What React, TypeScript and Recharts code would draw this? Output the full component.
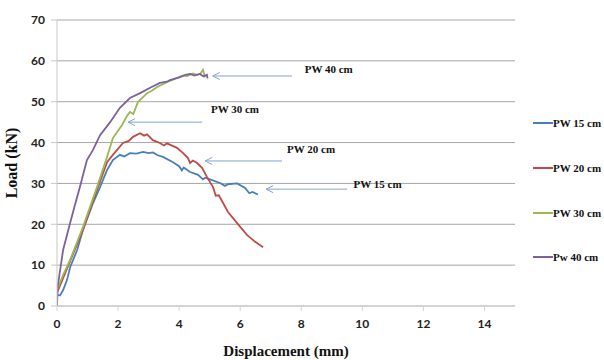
import React from 'react';
import {
	LineChart,
	Line,
	XAxis,
	YAxis,
	CartesianGrid,
	ReferenceLine,
	ReferenceDot,
} from 'recharts';

// displacement (mm), load (kN)
const pw15: [number, number][] = [
	[0, 2.7], [0.1, 2.6], [0.2, 3.9], [0.33, 6.4], [0.43, 9.5], [0.66, 13.7],
	[0.85, 18.6], [1.18, 25.2], [1.41, 29.1], [1.64, 33.3], [1.83, 35.7],
	[2.06, 37.0], [2.2, 36.6], [2.39, 37.4], [2.6, 37.3], [2.82, 37.7],
	[3.0, 37.4], [3.14, 37.6], [3.3, 36.9], [3.47, 36.5], [3.8, 35.2],
	[4.0, 34.2], [4.09, 33.2], [4.15, 33.9], [4.36, 32.8], [4.62, 32.1],
	[4.78, 31.0], [4.85, 31.4], [5.08, 30.8], [5.34, 30.1], [5.5, 29.4],
	[5.6, 29.8], [5.9, 30.0], [6.16, 28.9], [6.3, 27.6], [6.4, 27.9],
	[6.58, 27.3],
];

const pw20: [number, number][] = [
	[0, 3.2], [0.2, 6.8], [0.43, 11.0], [0.85, 18.6], [1.31, 28.4],
	[1.64, 35.2], [1.83, 37.0], [2.16, 39.9], [2.35, 40.4], [2.49, 41.4],
	[2.72, 42.3], [2.85, 41.7], [2.95, 42.0], [3.14, 40.6], [3.37, 39.9],
	[3.5, 39.3], [3.6, 39.8], [3.93, 38.7], [4.13, 37.4], [4.29, 36.2],
	[4.36, 35.0], [4.45, 35.6], [4.59, 35.0], [4.75, 33.8], [4.91, 31.6],
	[5.11, 29.1], [5.2, 27.0], [5.3, 27.1], [5.44, 25.2], [5.6, 23.0],
	[5.9, 20.3], [6.22, 17.4], [6.49, 15.7], [6.75, 14.4],
];

const pw30: [number, number][] = [
	[0, 3.9], [0.2, 7.6], [0.43, 11.3], [0.85, 19.3], [1.31, 29.1],
	[1.64, 36.5], [1.83, 41.1], [2.13, 44.3], [2.3, 46.6], [2.39, 47.5],
	[2.5, 47.0], [2.65, 49.9], [2.95, 52.1], [3.1, 52.7], [3.28, 53.6],
	[3.6, 54.8], [3.93, 55.8], [4.1, 56.4], [4.26, 56.3], [4.45, 56.9],
	[4.59, 56.6], [4.7, 56.9], [4.78, 57.8], [4.85, 56.0],
];

const pw40: [number, number][] = [
	[0, 0], [0.02, 4.6], [0.2, 13.7], [0.43, 20.3], [0.6, 25.1],
	[0.75, 29.1], [0.98, 35.7], [1.18, 38.2], [1.41, 41.8], [1.74, 45.0],
	[2.06, 48.5], [2.39, 50.9], [2.72, 52.1], [3.05, 53.4], [3.37, 54.6],
	[3.6, 54.9], [3.7, 55.3], [4.03, 56.0], [4.2, 56.6], [4.36, 56.8],
	[4.5, 56.4], [4.68, 56.8], [4.8, 56.2], [4.91, 56.6], [4.93, 55.7],
];

const seriesNames = ['PW 15 cm', 'PW 20 cm', 'PW 30 cm', 'Pw 40 cm'];
const seriesData = [pw15, pw20, pw30, pw40];
const COLORS = ['#4a7ebb', '#be4b48', '#98b954', '#7d60a0'];

const xTicks = [0, 2, 4, 6, 8, 10, 12, 14];
const yTicks = [0, 10, 20, 30, 40, 50, 60, 70];

// annotation text: [label, x, y] and arrows: [tailX, tipX, y]
const noteLabels: [string, number, number][] = [
	['PW 40 cm', 8.9, 58.1],
	['PW 30 cm', 5.83, 48.3],
	['PW 20 cm', 8.32, 38.5],
	['PW 15 cm', 10.5, 29.9],
];
const noteArrows: [number, number, number][] = [
	[7.7, 5.1, 56.3],
	[4.75, 2.33, 45.0],
	[7.37, 4.85, 35.5],
	[9.5, 6.85, 28.6],
];

const serif = '"Liberation Serif", "Times New Roman", serif';

const Arrow = (props: any) => {
	const { x1, y1, x2, y2 } = props;
	return (
		<g stroke="#86a3cf" strokeWidth={1} fill="none">
			<line x1={x1} y1={y1} x2={x2} y2={y2} />
			<polyline points={`${x2 + 7},${y2 - 3.5} ${x2},${y2} ${x2 + 7},${y2 + 3.5}`} />
		</g>
	);
};

const ChartLegend = () => (
	<div
		style={{
			position: 'absolute',
			left: 533,
			top: 101,
			fontFamily: serif,
			fontWeight: 'bold',
			fontSize: 11,
		}}
	>
		{seriesNames.map((name, i) => (
			<div key={name} style={{ height: 44.7, display: 'flex', alignItems: 'center' }}>
				<span style={{ width: 20, height: 2, background: COLORS[i], display: 'inline-block' }} />
				<span style={{ color: '#111', whiteSpace: 'nowrap' }}>{name}</span>
			</div>
		))}
	</div>
);

export default function App() {
	return (
		<div style={{ position: 'absolute', left: 0, top: 0, width: 604, height: 360, background: '#fff' }}>
			<LineChart width={604} height={360} margin={{ top: 20, right: 89, left: 17, bottom: 0 }}>
				<CartesianGrid vertical={false} stroke="#a6a6a6" />
				<XAxis
					type="number"
					dataKey="x"
					domain={[0, 15]}
					ticks={xTicks}
					height={54}
					allowDataOverflow
					stroke="#d4d4d4"
					tickSize={5}
					tickMargin={8}
					tick={{ fill: '#222', fontSize: 12, fontWeight: 'bold', fontFamily: 'Lato, sans-serif' }}
					label={{
						value: 'Displacement (mm)',
						position: 'insideBottom',
						offset: 4,
						fill: '#111',
						fontSize: 15,
						fontWeight: 'bold',
						fontFamily: serif,
					}}
				/>
				<YAxis
					type="number"
					domain={[0, 70]}
					ticks={yTicks}
					width={40}
					stroke="#c8c8c8"
					tickSize={6}
					tickMargin={6}
					tick={{ fill: '#222', fontSize: 12, fontWeight: 'bold', fontFamily: 'Lato, sans-serif' }}
					label={{
						value: 'Load (kN)',
						angle: -90,
						position: 'insideLeft',
						offset: -6,
						style: { textAnchor: 'middle' },
						fill: '#111',
						fontSize: 16,
						fontWeight: 'bold',
						fontFamily: serif,
					}}
				/>
				{seriesData.map((pts, i) => (
					<Line
						key={seriesNames[i]}
						name={seriesNames[i]}
						data={pts.map(([x, y]) => ({ x, y }))}
						dataKey="y"
						type="linear"
						stroke={COLORS[i]}
						strokeWidth={1.8}
						dot={false}
						isAnimationActive={false}
					/>
				))}
				{noteArrows.map(([tail, tip, y], i) => (
					<ReferenceLine
						key={`arrow-${i}`}
						segment={[{ x: tail, y }, { x: tip, y }]}
						shape={Arrow}
					/>
				))}
				{noteLabels.map(([label, x, y]) => (
					<ReferenceDot
						key={label}
						x={x}
						y={y}
						r={0}
						shape={(p: any) => (
							<text
								x={p.cx}
								y={p.cy}
								textAnchor="middle"
								dominantBaseline="central"
								fontFamily={serif}
								fontWeight="bold"
								fontSize={11}
								fill="#111"
							>
								{label}
							</text>
						)}
					/>
				))}
			</LineChart>
			<ChartLegend />
		</div>
	);
}
